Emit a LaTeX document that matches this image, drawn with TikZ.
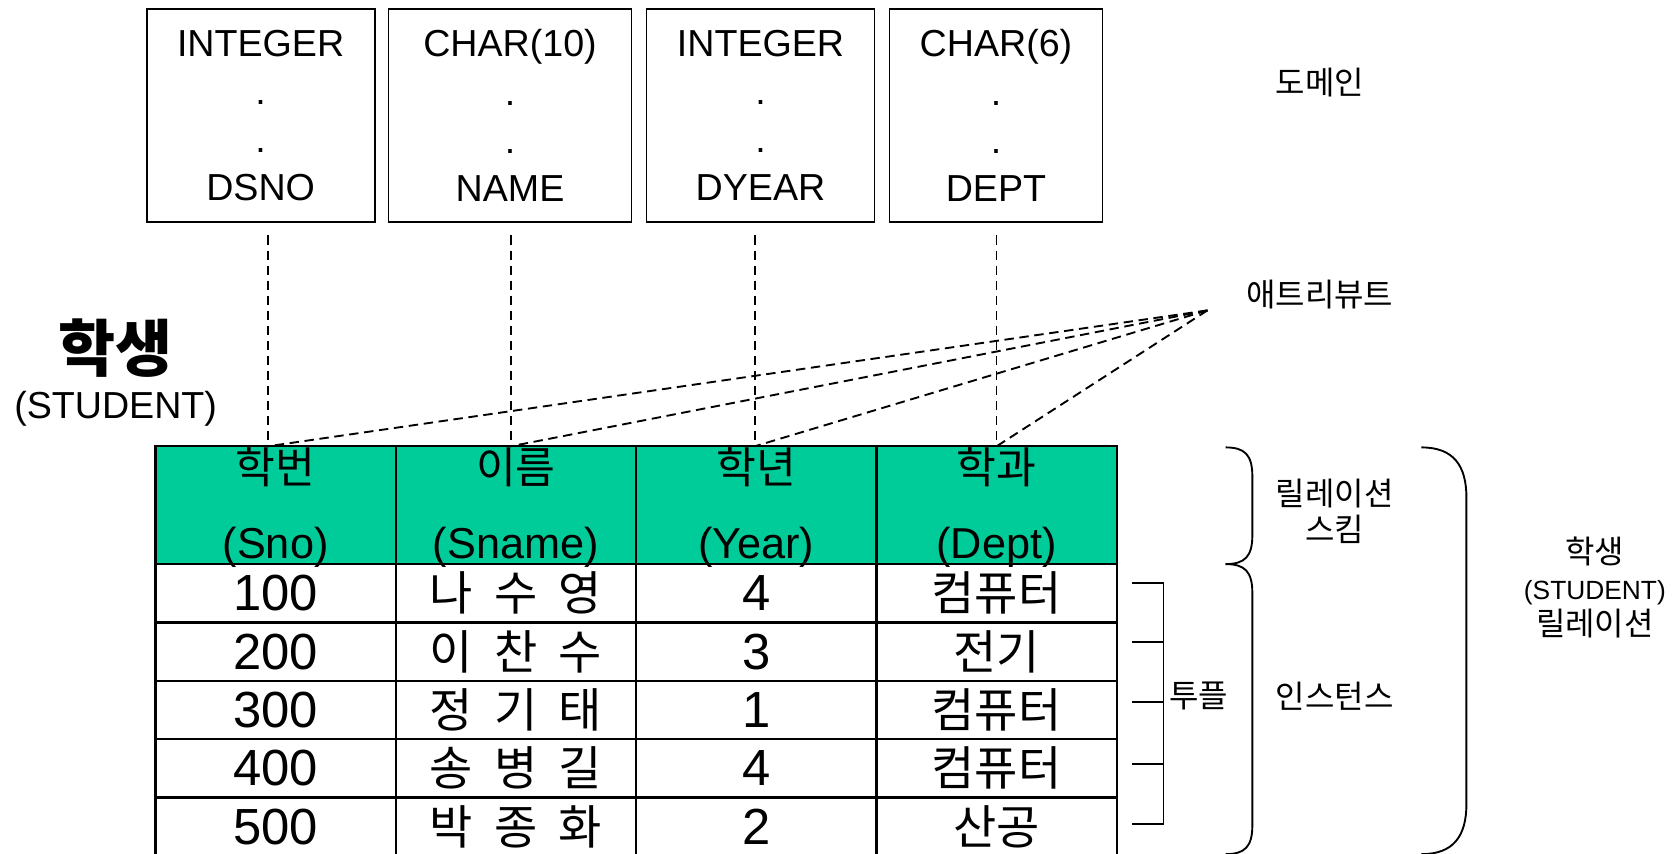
\documentclass[tikz,border=0pt]{standalone}
\usepackage{fontspec}
\setmainfont{Liberation Sans}
\newfontfamily\kr{Noto Sans CJK KR}
\newcommand\gap{\hspace{0.45em}}
\usetikzlibrary{calc}
\definecolor{hdrgreen}{RGB}{0,204,153}
\tikzset{
  dombox/.style={draw, line width=0.5pt, minimum height=19.9mm, align=center, inner sep=0pt, font=\fontsize{10}{12.8}\selectfont},
  cell/.style={draw, line width=0.6pt, minimum width=22.45mm, minimum height=5.45mm, inner sep=0pt},
  hcell/.style={cell, fill=hdrgreen, minimum height=11mm},
  dashline/.style={line width=0.5pt, dash pattern=on 2.5pt off 1.5pt},
  lbl/.style={font={\kr\fontsize{8.5}{9.6}\selectfont}, align=center, inner sep=0pt}
}
\begin{document}
\begin{tikzpicture}[x=0.1mm, y=-0.1mm]
\useasboundingbox (0,0) rectangle (1563,797);

\node[dombox, minimum width=21.3mm] (dom1) at (243.5,108) {INTEGER\\.\\.\\DSNO};
\node[dombox, minimum width=22.7mm] (dom2) at (476.5,108) {CHAR(10)\\.\\.\\NAME};
\node[dombox, minimum width=21.3mm] (dom3) at (710.5,108) {INTEGER\\.\\.\\DYEAR};
\node[dombox, minimum width=19.9mm] (dom4) at (930.5,108) {CHAR(6)\\.\\.\\DEPT};

\node[font={\kr\bfseries\fontsize{16.5}{19}\selectfont}] (title) at (108,325) {학생};
\node[font=\fontsize{10}{12}\selectfont] (titleen) at (108,382) {(STUDENT)};

\foreach \i/\x/\ko/\en in {1/257.5/학번/(Sno), 2/482/이름/(Sname), 3/706.5/학년/(Year), 4/931/학과/(Dept)} {
  \node[hcell] (h\i) at (\x,472) {};
  \node[font={\kr\fontsize{11.5}{13}\selectfont}] (h\i ko) at ($(h\i.north)+(0,21)$) {\ko};
  \node[font=\fontsize{11.5}{13}\selectfont] (h\i en) at ($(h\i.south)+(0,-17)$) {\en};
}

\foreach \r/\y/\a/\b/\c/\d in {1/554.25/100/나\gap 수\gap 영/4/컴퓨터, 2/608.75/200/이\gap 찬\gap 수/3/전기, 3/663.25/300/정\gap 기\gap 태/1/컴퓨터, 4/717.75/400/송\gap 병\gap 길/4/컴퓨터, 5/772.25/500/박\gap 종\gap 화/2/산공} {
  \node[cell, font=\fontsize{13.5}{15}\selectfont] (c\r-1) at (257.5,\y) {\a};
  \node[cell, font={\kr\fontsize{12.5}{14}\selectfont}] (c\r-2) at (482,\y) {\b};
  \node[cell, font=\fontsize{13.5}{15}\selectfont] (c\r-3) at (706.5,\y) {\c};
  \node[cell, font={\kr\fontsize{12.5}{14}\selectfont}] (c\r-4) at (931,\y) {\d};
}

\node[lbl] (domlbl) at (1233,77) {도메인};
\node[lbl] (attrlbl) at (1233,275) {애트리뷰트};
\coordinate (attr) at (1128,290);

\foreach \i/\x in {1/250, 2/477, 3/705, 4/931} {
  \coordinate (v\i) at (\x,220);
  \coordinate (t\i) at (\x,417);
  \draw[dashline] (v\i) -- (t\i);
  \draw[dashline] (attr) -- (t\i);
}

\draw[line width=0.5pt] (1058,545) -- (1087,545) -- (1087,770) -- (1058,770);
\foreach \y in {600,656,714} \draw[line width=0.5pt] (1058,\y) -- (1087,\y);
\node[lbl] (tuple) at (1120,650) {투플};

\draw[line width=0.5pt] (1145,418) .. controls (1163,418) and (1170,425) .. (1170,445) -- (1170,500) .. controls (1170,520) and (1163,527) .. (1145,527);
\draw[line width=0.5pt] (1145,527) .. controls (1163,527) and (1170,534) .. (1170,554) -- (1170,771) .. controls (1170,791) and (1163,798) .. (1145,798);
\draw[line width=0.5pt] (1328,418) .. controls (1358,418) and (1370,435) .. (1370,465) -- (1370,751) .. controls (1370,781) and (1358,798) .. (1328,798);

\node[lbl] (schema) at (1247,478) {릴레이션\\스킴};
\node[lbl] (inst) at (1247,650) {인스턴스};
\node[lbl] (rel) at (1490,549) {학생\\{\normalfont\fontsize{7}{9.6}\selectfont (STUDENT)}\\릴레이션};
\end{tikzpicture}
\end{document}
